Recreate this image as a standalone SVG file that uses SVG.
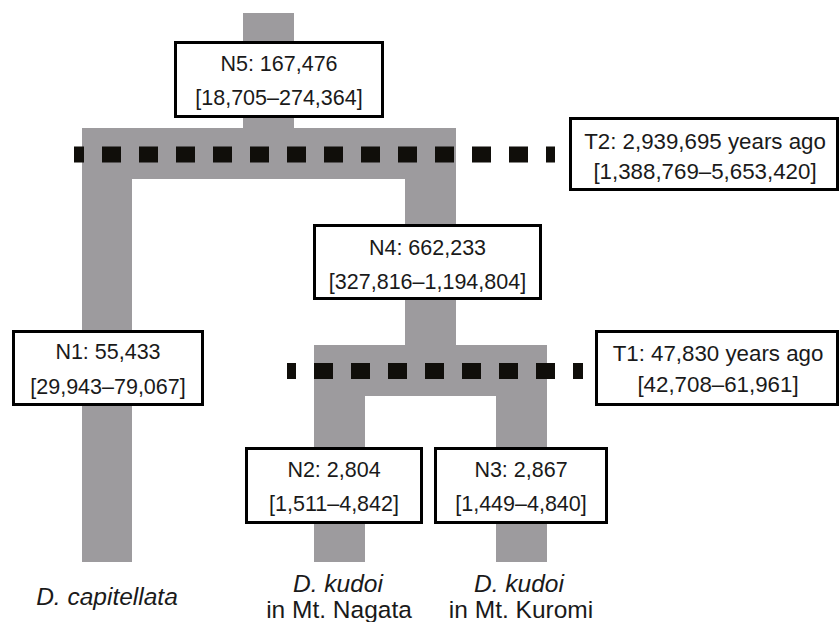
<svg xmlns="http://www.w3.org/2000/svg" width="840" height="622" viewBox="0 0 840 622">
  <style>
    .branch { fill: #9d9b9e; }
    .dash { stroke: #100e0a; stroke-width: 16; stroke-dasharray: 19 18; fill: none; }
    .box { fill: #ffffff; stroke: #000000; stroke-width: 3; }
    .t { font-family: "Liberation Sans", Arial, sans-serif; font-size: 21.5px; fill: #1a1a1a; text-anchor: middle; }
    .tt { font-family: "Liberation Sans", Arial, sans-serif; font-size: 22.3px; fill: #1a1a1a; text-anchor: middle; }
    .lab { font-family: "Liberation Sans", Arial, sans-serif; font-size: 24.5px; fill: #1a1a1a; text-anchor: middle; }
    .it { font-style: italic; }
  </style>
  <rect width="840" height="622" fill="#ffffff"/>

  <g id="connectors">
    <rect class="branch" x="243" y="13" width="51" height="116"/>
    <rect class="branch" x="82" y="128" width="374" height="51"/>
    <rect class="branch" x="82" y="178" width="50" height="384"/>
    <rect class="branch" x="405" y="178" width="51" height="168"/>
    <rect class="branch" x="314" y="345" width="233" height="51"/>
    <rect class="branch" x="314" y="395" width="51" height="167"/>
    <rect class="branch" x="496" y="395" width="51" height="167"/>
  </g>

  <g id="time-lines">
    <line class="dash" x1="74" y1="154.5" x2="555" y2="154.5" stroke-dashoffset="9"/>
    <line class="dash" x1="287" y1="371" x2="583" y2="371" stroke-dashoffset="10"/>
  </g>

  <g id="N5">
    <rect class="box" x="175.5" y="42.5" width="207" height="74"/>
    <text class="t" x="279" y="71">N5: 167,476</text>
    <text class="t" x="279" y="105">[18,705–274,364]</text>
  </g>

  <g id="T2">
    <rect class="box" x="570.5" y="118.5" width="267" height="71"/>
    <text class="tt" x="705" y="149">T2: 2,939,695 years ago</text>
    <text class="tt" x="705" y="179">[1,388,769–5,653,420]</text>
  </g>

  <g id="N4">
    <rect class="box" x="314.5" y="225.5" width="226" height="73"/>
    <text class="t" x="427.5" y="255">N4: 662,233</text>
    <text class="t" x="427.5" y="289">[327,816–1,194,804]</text>
  </g>

  <g id="N1">
    <rect class="box" x="13.5" y="331.5" width="189" height="73"/>
    <text class="t" x="108" y="359">N1: 55,433</text>
    <text class="t" x="108" y="394">[29,943–79,067]</text>
  </g>

  <g id="T1">
    <rect class="box" x="596.5" y="331.5" width="241" height="73"/>
    <text class="tt" x="718" y="361">T1: 47,830 years ago</text>
    <text class="tt" x="718" y="392">[42,708–61,961]</text>
  </g>

  <g id="N2">
    <rect class="box" x="246.5" y="448.5" width="175" height="74"/>
    <text class="t" x="334" y="477">N2: 2,804</text>
    <text class="t" x="334" y="511">[1,511–4,842]</text>
  </g>

  <g id="N3">
    <rect class="box" x="435.5" y="448.5" width="171" height="74"/>
    <text class="t" x="521" y="477">N3: 2,867</text>
    <text class="t" x="521" y="511">[1,449–4,840]</text>
  </g>

  <g id="leaf-capitellata">
    <text class="lab it" x="107" y="605">D. capitellata</text>
  </g>
  <g id="leaf-nagata">
    <text class="lab" x="338" y="592"><tspan class="it">D. kudoi</tspan></text>
    <text class="lab" x="339" y="618">in Mt. Nagata</text>
  </g>
  <g id="leaf-kuromi">
    <text class="lab" x="519" y="592"><tspan class="it">D. kudoi</tspan></text>
    <text class="lab" x="521" y="618">in Mt. Kuromi</text>
  </g>
</svg>
